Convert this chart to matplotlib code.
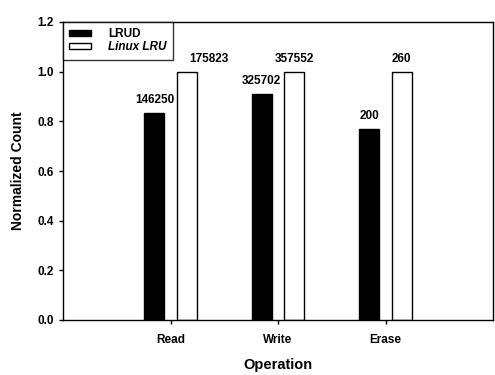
import matplotlib
matplotlib.use("Agg")
from matplotlib import pyplot as plt
import numpy as np

operations = ["Read", "Write", "Erase"]
lrud_counts = [146250, 325702, 200]
linux_counts = [175823, 357552, 260]

lrud_norm = [a / b for a, b in zip(lrud_counts, linux_counts)]
linux_norm = [1.0, 1.0, 1.0]

plt.rcParams['font.family'] = ['Liberation Sans', 'DejaVu Sans']
plt.rcParams['font.weight'] = 'bold'

fig = plt.figure(figsize=(4.95, 3.75), dpi=100)
ax = fig.add_axes([63 / 495, 55 / 375, 430 / 495, 298 / 375])

x = np.arange(1, len(operations) + 1)
w = 0.185
b1 = ax.bar(x - 0.15, lrud_norm, w, color='black', edgecolor='black', label='LRUD')
b2 = ax.bar(x + 0.15, linux_norm, w, color='white', edgecolor='black', linewidth=1.0,
            label='Linux LRU')

for rect, c in zip(b1, lrud_counts):
    ax.annotate(str(c), (rect.get_x() + rect.get_width() / 2, rect.get_height()),
                xytext=(0, 5), textcoords='offset points',
                ha='center', va='bottom', fontsize=8.5, fontweight='bold')
# first Linux label is pushed right, clear of the legend
for i, (rect, c) in enumerate(zip(b2, linux_counts)):
    dx = 16 if i == 0 else 0
    ax.annotate(str(c), (rect.get_x() + rect.get_width() / 2, rect.get_height()),
                xytext=(dx, 5), textcoords='offset points',
                ha='center', va='bottom', fontsize=8.5, fontweight='bold')

ax.set_xlim(0, 4)
ax.set_ylim(0, 1.2)
ax.set_xticks(x)
ax.set_xticklabels(operations, fontsize=8.5, fontweight='bold')
ax.set_yticks(np.arange(0, 1.21, 0.2))
ax.set_yticklabels(['%.1f' % v for v in np.arange(0, 1.21, 0.2)], fontsize=8.5, fontweight='bold')
ax.tick_params(direction='out', length=3, width=1)
ax.tick_params(axis='x', pad=7)
for s in ax.spines.values():
    s.set_linewidth(1)

ax.set_xlabel('Operation', fontsize=10.5, fontweight='bold', labelpad=9)
ax.set_ylabel('Normalized Count', fontsize=10, fontweight='bold', labelpad=9)

leg = ax.legend(loc='upper left', fontsize=8.5, frameon=True, fancybox=False,
                borderaxespad=0, handlelength=1.8, handleheight=0.45, handletextpad=1.5,
                borderpad=0.55, labelspacing=0.05)
leg.get_frame().set_edgecolor('black')
leg.get_frame().set_linewidth(1)
leg.get_texts()[1].set_fontstyle('italic')
for t in leg.get_texts():
    t.set_fontweight('bold')

fig.savefig('out.png', dpi=100)
